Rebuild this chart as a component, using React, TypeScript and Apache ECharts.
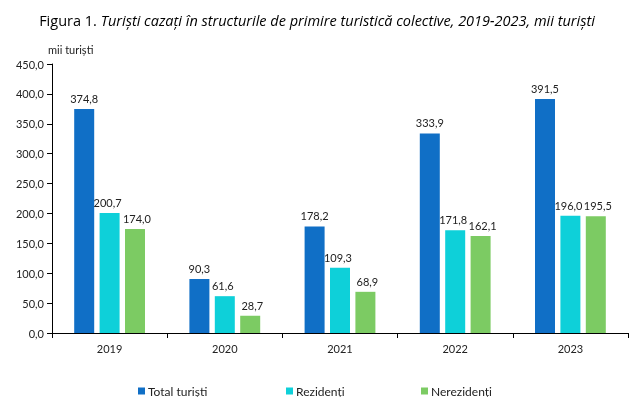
import React, { useEffect, useRef } from "react";
import * as echarts from "echarts";

const years = ["2019", "2020", "2021", "2022", "2023"];
const totalTuristi = [374.8, 90.3, 178.2, 333.9, 391.5];
const rezidenti = [200.7, 61.6, 109.3, 171.8, 196.0];
const nerezidenti = [174.0, 28.7, 68.9, 162.1, 195.5];
const seriesNames = ["Total turiști", "Rezidenți", "Nerezidenți"];
const colors = ["#106FC6", "#0ED0D9", "#7CCB63"];

const FONT = "Lato, 'Open Sans', sans-serif";
const TFONT = "'Open Sans', Lato, sans-serif";
const fmt = (v: number) => v.toFixed(1).replace(".", ",");

export default function App() {
  const ref = useRef<HTMLDivElement>(null);
  useEffect(() => {
    if (!ref.current) return;
    const chart = echarts.init(ref.current, null, { renderer: "svg" });
    const dataSets = [totalTuristi, rezidenti, nerezidenti];
    const legendLefts = [133, 281, 416];
    const labelOffsets = [[0, 0], [-2, 0], [2, 0]];
    chart.setOption({
      animation: false,
      textStyle: { fontFamily: FONT },
      title: {
        text: "{a|Figura 1. }{b|Turiști cazați în structurile de primire turistică colective, 2019-2023, mii turiști}",
        left: "center",
        top: 8,
        textStyle: {
          fontWeight: "normal",
          rich: {
            a: { fontFamily: TFONT, fontSize: 14.5, color: "#000", fontWeight: "normal" },
            b: { fontFamily: TFONT, fontSize: 14.5, color: "#000", fontStyle: "italic", fontWeight: "normal" },
          },
        },
      },
      graphic: [
        {
          type: "text",
          left: 48,
          top: 44,
          style: { text: "mii turiști", font: `11px ${FONT}`, fill: "#222" },
        },
      ],
      legend: seriesNames.map((n, i) => ({
        data: [n],
        left: legendLefts[i],
        top: 380,
        icon: "rect",
        itemWidth: 7,
        itemHeight: 7,
        itemGap: 4,
        textStyle: { fontFamily: FONT, fontSize: 12, color: "#222", padding: [0, 0, 0, -2] },
      })),
      grid: { left: 52, right: 6, top: 64, bottom: 64, containLabel: false },
      xAxis: {
        type: "category",
        data: years,
        axisLine: { lineStyle: { color: "#000", width: 1 } },
        axisTick: { show: true, length: 5, lineStyle: { color: "#000" }, alignWithLabel: false },
        axisLabel: { fontFamily: FONT, fontSize: 11, color: "#222", margin: 10 },
      },
      yAxis: {
        type: "value",
        min: 0,
        max: 450,
        interval: 50,
        axisLine: { show: true, lineStyle: { color: "#000", width: 1 } },
        axisTick: { show: true, length: 5, lineStyle: { color: "#000" } },
        splitLine: { show: false },
        axisLabel: {
          fontFamily: FONT,
          fontSize: 11,
          color: "#222",
          margin: 8,
          formatter: (v: number) => fmt(v),
        },
      },
      series: seriesNames.map((n, i) => ({
        name: n,
        type: "bar",
        data: dataSets[i],
        barWidth: 20,
        barGap: "27%",
        itemStyle: { color: colors[i] },
        label: {
          show: true,
          position: "top",
          distance: 5,
          offset: labelOffsets[i],
          fontFamily: FONT,
          fontSize: 11,
          color: "#222",
          formatter: (p: any) => fmt(p.value),
        },
      })),
    });
    return () => chart.dispose();
  }, []);
  return (
    <div
      ref={ref}
      style={{ position: "fixed", left: 0, top: 0, width: 634, height: 397 }}
    />
  );
}
